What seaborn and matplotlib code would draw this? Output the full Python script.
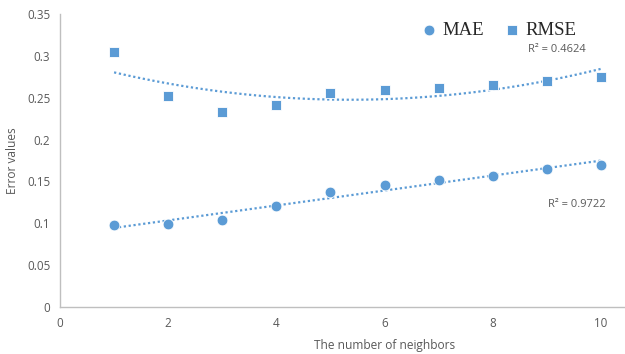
import numpy as np
import pandas as pd
import matplotlib
matplotlib.use("Agg")
import matplotlib.pyplot as plt
import seaborn as sns

# Error metrics versus number of neighbours
neighbors = [1, 2, 3, 4, 5, 6, 7, 8, 9, 10]
mae = [0.0976, 0.0988, 0.1036, 0.1212, 0.1372, 0.1457, 0.1517, 0.1570, 0.1645, 0.1694]
rmse = [0.3046, 0.2525, 0.2330, 0.2417, 0.2553, 0.2592, 0.2616, 0.2652, 0.2703, 0.2743]
r2_mae = "R² = 0.9722"
r2_rmse = "R² = 0.4624"
x_ticks = [0, 2, 4, 6, 8, 10]
y_ticks = [0, 0.05, 0.1, 0.15, 0.2, 0.25, 0.3, 0.35]

df = pd.DataFrame({"k": neighbors, "MAE": mae, "RMSE": rmse})

sns.set_theme(style="white")
plt.rcParams["font.family"] = ["Open Sans", "DejaVu Sans"]

blue = "#5B9BD5"
grey = "#595959"

W, H = 625, 354
fig = plt.figure(figsize=(W / 100, H / 100), dpi=100)
# plot area runs past the right edge of the canvas
left, right, top, bottom = 60, 709, 14, 307
ax = fig.add_axes([left / W, 1 - bottom / H, (right - left) / W, (bottom - top) / H])

# trendlines: linear for MAE, quadratic for RMSE
sns.regplot(data=df, x="k", y="MAE", order=1, ci=None, scatter=False, ax=ax,
            line_kws=dict(color=blue, lw=1.6, ls=(0, (1, 1.2))))
sns.regplot(data=df, x="k", y="RMSE", order=2, ci=None, scatter=False, ax=ax,
            line_kws=dict(color=blue, lw=1.6, ls=(0, (1, 1.2))))

sns.scatterplot(data=df, x="k", y="MAE", marker="o", s=60, color=blue,
                edgecolor="white", linewidth=0.6, ax=ax, label="MAE", zorder=3)
sns.scatterplot(data=df, x="k", y="RMSE", marker="s", s=60, color=blue,
                edgecolor="white", linewidth=0.6, ax=ax, label="RMSE", zorder=3)

ax.set_xlim(0, 12)
ax.set_ylim(0, 0.35)
ax.set_xticks(x_ticks)
ax.set_xticklabels([str(t) for t in x_ticks])
ax.set_yticks(y_ticks)
ax.set_yticklabels(["0", "0.05", "0.1", "0.15", "0.2", "0.25", "0.3", "0.35"])
ax.tick_params(axis="both", length=0, labelsize=8.4, labelcolor=grey, pad=7)

for s in ["top", "right"]:
    ax.spines[s].set_visible(False)
for s in ["left", "bottom"]:
    ax.spines[s].set_color("#BFBFBF")
    ax.spines[s].set_linewidth(1.0)

ax.set_xlabel("The number of neighbors", fontsize=8.6, color=grey, labelpad=7)
ax.set_ylabel("Error values", fontsize=8.6, color=grey, labelpad=6)

ax.text(10.08, 0.123, r2_mae, fontsize=8, color=grey, ha="right", va="center")
ax.text(9.72, 0.307, r2_rmse, fontsize=8, color=grey, ha="right", va="center",
        zorder=1)

leg = ax.legend(loc="center", bbox_to_anchor=(0.795, 0.915), bbox_transform=fig.transFigure,
                ncol=2, frameon=True, facecolor="white", edgecolor="none", framealpha=1,
                handletextpad=0.1, columnspacing=0.9, borderpad=0.2, handlelength=1.2,
                prop=dict(family="Liberation Serif", size=13.5))
leg.set_zorder(5)
for t in leg.get_texts():
    t.set_color("#262626")

fig.savefig("out.png", dpi=100)
